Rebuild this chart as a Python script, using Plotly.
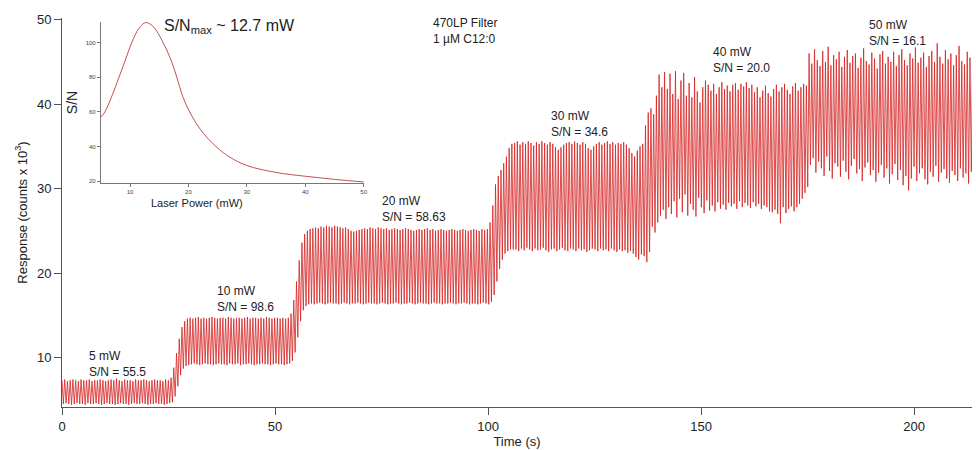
import numpy as np
import plotly.graph_objects as go

# Chopper period of the excitation (s)
PERIOD_S = 0.64

# Per-cycle peak (light on) and trough (light off) responses, counts x 10^3
high_5mw = [7.3, 7.4, 7.2, 7.3, 7.4, 7.3, 7.2, 7.4, 7.3, 7.3,
            7.4, 7.2, 7.3, 7.3, 7.4, 7.3, 7.2, 7.3, 7.4, 7.3,
            7.5, 7.3, 7.2, 7.4, 7.3, 7.3, 7.2, 7.4, 7.3, 7.3,
            7.4, 7.3, 7.2, 7.3, 7.4, 7.3, 7.3, 7.2, 7.4, 7.3]
low_5mw = [4.5, 4.6, 4.5, 4.4, 4.5, 4.6, 4.5, 4.5, 4.4, 4.6,
           4.5, 4.5, 4.6, 4.5, 4.4, 4.5, 4.6, 4.5, 4.5, 4.4,
           4.5, 4.6, 4.5, 4.5, 4.4, 4.5, 4.6, 4.5, 4.5, 4.6,
           4.5, 4.4, 4.5, 4.5, 4.6, 4.5, 4.5, 4.4, 4.5, 4.6]

high_to_10mw = [7.6, 8.8, 10.5, 12.2, 13.6, 14.3, 14.6]
low_to_10mw = [4.7, 5.4, 6.6, 7.9, 8.7, 9.0, 9.1]

high_10mw = [14.7, 14.6, 14.7, 14.8, 14.6, 14.7, 14.6, 14.7, 14.8, 14.7,
             14.6, 14.7, 14.7, 14.6, 14.8, 14.7, 14.6, 14.7, 14.7, 14.6,
             14.7, 14.8, 14.6, 14.7, 14.7, 14.6, 14.7, 14.6, 14.8, 14.7,
             14.6, 14.7, 14.7, 14.6, 14.7, 14.6, 14.7]
low_10mw = [9.2, 9.3, 9.2, 9.1, 9.2, 9.3, 9.2, 9.2, 9.1, 9.2,
            9.3, 9.2, 9.2, 9.1, 9.3, 9.2, 9.2, 9.3, 9.1, 9.2,
            9.2, 9.3, 9.2, 9.1, 9.2, 9.2, 9.3, 9.2, 9.2, 9.1,
            9.2, 9.3, 9.2, 9.2, 9.1, 9.2, 9.3]

high_to_20mw = [15.2, 16.8, 19.0, 21.5, 23.6, 24.6, 25.0]
low_to_20mw = [9.6, 10.6, 12.4, 14.3, 15.6, 16.1, 16.3]

high_20mw = [25.2, 25.3, 25.4, 25.3, 25.5, 25.4, 25.6, 25.5, 25.4, 25.6,
             25.5, 25.4, 25.3, 25.4, 25.2, 25.0, 24.9, 25.0, 25.1, 25.2,
             25.3, 25.2, 25.4, 25.3, 25.2, 25.4, 25.3, 25.2, 25.3, 25.1,
             25.2, 25.3, 25.2, 25.1, 25.2, 25.3, 25.2, 25.1, 25.0, 25.1,
             25.2, 25.1, 25.2, 25.3, 25.1, 25.2, 25.0, 25.1, 25.2, 25.1,
             25.0, 25.1, 25.2, 25.1, 25.0, 25.1, 25.2, 25.1, 25.0, 25.1,
             25.2, 25.1, 25.0, 25.2, 25.1, 25.2]
low_20mw = [16.4, 16.3, 16.4, 16.5, 16.4, 16.3, 16.4, 16.5, 16.4, 16.4,
            16.3, 16.4, 16.5, 16.4, 16.3, 16.4, 16.4, 16.5, 16.4, 16.3,
            16.4, 16.5, 16.4, 16.4, 16.3, 16.4, 16.5, 16.4, 16.3, 16.4,
            16.4, 16.5, 16.4, 16.3, 16.4, 16.4, 16.5, 16.4, 16.3, 16.4,
            16.5, 16.4, 16.4, 16.3, 16.4, 16.5, 16.4, 16.4, 16.3, 16.4,
            16.4, 16.5, 16.4, 16.3, 16.4, 16.4, 16.5, 16.4, 16.3, 16.4,
            16.4, 16.3, 16.4, 16.5, 16.4, 16.3]

high_to_30mw = [26.0, 28.0, 30.5, 31.5, 32.2, 33.0, 33.8, 34.8, 35.3]
low_to_30mw = [16.6, 17.4, 19.0, 20.5, 21.6, 22.3, 22.6, 22.8, 22.8]

high_30mw = [35.4, 35.6, 35.2, 35.5, 35.3, 35.6, 35.4, 35.1, 35.5, 35.3,
             35.6, 35.4, 35.2, 35.5, 35.3, 34.9, 34.6, 34.9, 35.2, 35.4,
             35.5, 35.3, 35.6, 35.4, 35.2, 35.5, 35.3, 34.8, 34.6, 35.0,
             35.3, 35.5, 35.2, 35.4, 35.6, 35.3, 35.5, 35.2, 35.4, 35.3,
             35.5, 35.2, 34.8, 34.2, 33.8, 34.5, 35.0, 35.3]
low_30mw = [22.8, 22.6, 22.9, 22.7, 23.0, 22.8, 22.6, 22.9, 22.7, 22.8,
            23.0, 22.7, 22.5, 22.8, 22.9, 22.6, 22.8, 23.0, 22.7, 22.6,
            22.9, 22.8, 22.6, 22.9, 22.7, 22.8, 22.5, 22.7, 22.9, 22.8,
            22.6, 22.9, 22.7, 22.8, 22.6, 22.9, 22.7, 22.5, 22.8, 22.6,
            22.7, 22.4, 22.6, 22.3, 21.9, 21.6, 22.2, 22.0]

high_to_40mw = [37.5, 39.0, 39.5, 38.8, 41.0, 43.5, 42.0, 43.8, 41.8]
low_to_40mw = [21.3, 22.5, 25.5, 24.8, 26.0, 26.8, 27.5, 26.4, 27.8]

high_40mw = [43.6, 41.2, 43.9, 40.6, 42.8, 43.7, 41.0, 42.5, 40.8, 43.2,
             41.5, 40.2, 42.0, 42.8, 42.3, 41.6, 42.4, 41.2, 42.0, 42.6,
             41.8, 42.2, 41.5, 42.3, 42.5, 41.7, 42.4, 42.1, 42.6, 41.9,
             42.3, 41.4, 42.0, 40.8, 41.6, 42.2, 41.3, 40.9, 41.8, 42.3,
             41.5, 42.0, 42.4, 41.7, 41.2, 42.1, 42.5, 41.6, 42.0, 42.4,
             42.2]
low_40mw = [27.0, 28.5, 26.6, 28.8, 27.2, 29.3, 26.8, 28.2, 27.5, 26.7,
            28.9, 27.8, 27.1, 28.6, 27.4, 28.0, 27.3, 28.4, 27.6, 28.1,
            27.5, 28.3, 27.9, 28.2, 27.6, 28.5, 27.8, 28.3, 28.0, 27.7,
            28.4, 27.9, 28.2, 27.6, 28.0, 27.8, 27.3, 27.2, 27.5, 27.0,
            25.9, 27.8, 27.1, 27.6, 27.9, 27.3, 27.8, 28.2, 28.8, 29.5,
            30.2]

high_50mw = [46.0, 44.8, 46.5, 45.2, 44.5, 46.3, 45.0, 46.8, 44.6, 45.8,
             45.3, 46.2, 44.4, 45.6, 46.4, 44.9, 45.7, 46.0, 44.3, 45.5,
             46.6, 45.1, 44.7, 46.1, 45.4, 44.2, 45.9, 46.3, 44.8, 45.6,
             45.0, 46.2, 44.5, 45.8, 46.5, 45.2, 44.6, 46.0, 45.4, 46.7,
             44.9, 45.5, 46.1, 44.4, 45.7, 46.3, 45.0, 47.2, 45.6, 44.8,
             46.4, 45.3, 46.0, 44.6, 45.8, 46.9, 45.1, 44.7, 46.2, 45.5,
             45.9]
low_50mw = [32.8, 33.6, 31.9, 33.2, 32.4, 31.5, 33.8, 32.1, 31.2, 33.0,
            32.6, 31.4, 33.3, 32.0, 31.1, 32.7, 33.5, 31.8, 32.3, 30.9,
            32.5, 33.1, 31.6, 32.2, 30.8, 31.9, 32.8, 31.3, 32.4, 30.6,
            31.7, 32.9, 31.0, 32.2, 30.4, 31.5, 29.8, 31.2, 32.6, 30.9,
            31.8, 32.4, 31.1, 30.5, 32.0, 31.4, 32.7, 30.8, 31.9, 32.3,
            31.2, 30.7, 32.1, 31.6, 30.9, 32.4, 31.3, 31.8, 30.6, 32.0,
            31.5]

# Inset: S/N against laser power
power_mw = [5, 5.7, 7, 8, 9, 10.3, 11.5, 12.7, 14, 15.65, 17, 18, 19,
            20.2, 22, 24.7, 27, 30, 35, 40, 45, 50]
snr = [57, 60, 70, 79, 88, 100, 108, 111.5, 109, 100, 90, 80, 69,
       60, 50, 40, 34, 29, 25, 22.8, 21, 19.5]

# Step labels
step_t = [5.8, 35.8, 74.6, 114.3, 152.4, 189.0]
step_y = [9.2, 16.9, 27.6, 37.7, 45.2, 48.4]
step_text = ["5 mW<br>S/N = 55.5", "10 mW<br>S/N = 98.6",
             "20 mW<br>S/N = 58.63", "30 mW<br>S/N = 34.6",
             "40 mW<br>S/N = 20.0", "50 mW<br>S/N = 16.1"]

segments = [
    (high_5mw, low_5mw), (high_to_10mw, low_to_10mw), (high_10mw, low_10mw),
    (high_to_20mw, low_to_20mw), (high_20mw, low_20mw),
    (high_to_30mw, low_to_30mw), (high_30mw, low_30mw),
    (high_to_40mw, low_to_40mw), (high_40mw, low_40mw),
    (high_50mw, low_50mw),
]
highs, lows = [], []
for h, l in segments:
    n = min(len(h), len(l))
    highs += h[:n]
    lows += l[:n]

t_cycle = np.arange(len(highs)) * PERIOD_S
t = np.column_stack([t_cycle, t_cycle + PERIOD_S / 2]).ravel()
resp = np.column_stack([highs, lows]).ravel()

FONT = "Liberation Sans, Arial, Helvetica, sans-serif"
INK = "#222222"
AXIS = "#555555"

fig = go.Figure()
fig.add_trace(go.Scatter(
    x=t, y=resp, mode="lines",
    line=dict(color="#d42222", width=0.8),
    hoverinfo="skip", showlegend=False,
))
fig.add_trace(go.Scatter(
    x=power_mw, y=snr, mode="lines", xaxis="x2", yaxis="y2",
    line=dict(color="#c0504d", width=1, shape="spline", smoothing=1.0),
    hoverinfo="skip", showlegend=False,
))

annotations = []
for xt, yt, tx in zip(step_t, step_y, step_text):
    annotations.append(dict(
        x=xt, y=yt, xref="x", yref="y", text=tx, showarrow=False,
        xanchor="left", yanchor="middle", align="left",
        font=dict(family=FONT, size=12, color=INK),
    ))
annotations.append(dict(
    x=86.7, y=48.7, xref="x", yref="y", text="470LP Filter<br>1 µM C12:0",
    showarrow=False, xanchor="left", yanchor="middle", align="left",
    font=dict(family=FONT, size=12, color=INK),
))
annotations.append(dict(
    x=0.1094, y=0.977, xref="paper", yref="paper",
    text="S/N<sub>max</sub> ~ 12.7 mW", showarrow=False,
    xanchor="left", yanchor="middle",
    font=dict(family=FONT, size=16, color=INK),
))
annotations.append(dict(
    x=0.1488, y=0.524, xref="paper", yref="paper",
    text="Laser Power (mW)", showarrow=False,
    xanchor="center", yanchor="middle",
    font=dict(family=FONT, size=11, color=INK),
))

fig.update_layout(
    width=976, height=450,
    margin=dict(l=62, r=0, t=18, b=43),
    paper_bgcolor="white", plot_bgcolor="white",
    font=dict(family=FONT, color=INK),
    annotations=annotations,
    xaxis=dict(
        range=[0, 213.6], tickvals=[0, 50, 100, 150, 200],
        showgrid=False, zeroline=False, showline=True,
        linecolor=AXIS, linewidth=1, ticks="outside", ticklen=7,
        tickcolor=AXIS, tickfont=dict(size=13, color=INK),
        title=dict(text="Time (s)", font=dict(size=13, color=INK), standoff=4),
    ),
    yaxis=dict(
        range=[4.14, 50.2], tickvals=[10, 20, 30, 40, 50],
        showgrid=False, zeroline=False, showline=True,
        linecolor=AXIS, linewidth=1, ticks="outside", ticklen=7,
        tickcolor=AXIS, tickfont=dict(size=13, color=INK),
        title=dict(text="Response (counts x 10<sup>3</sup>)",
                   font=dict(size=13, color=INK), standoff=6),
    ),
    xaxis2=dict(
        domain=[0.0427, 0.3315], anchor="y2", range=[5, 50],
        tickvals=[10, 20, 30, 40, 50],
        showgrid=False, zeroline=False, showline=True,
        linecolor="#777777", linewidth=1, ticks="outside", ticklen=3,
        tickcolor="#777777", tickfont=dict(size=6, color="#444444"),
    ),
    yaxis2=dict(
        domain=[0.5758, 0.9897], anchor="x2", range=[18.9, 111.8],
        tickvals=[20, 40, 60, 80, 100],
        showgrid=False, zeroline=False, showline=True,
        linecolor="#777777", linewidth=1, ticks="outside", ticklen=3,
        tickcolor="#777777", tickfont=dict(size=6, color="#444444"),
        title=dict(text="S/N", font=dict(size=14, color=INK), standoff=4),
    ),
)

fig.write_html("out.html")
